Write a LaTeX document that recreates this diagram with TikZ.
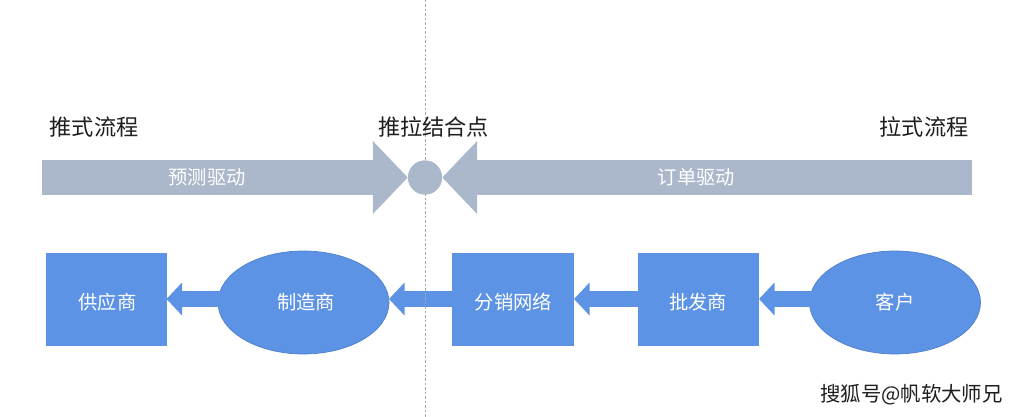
\documentclass[tikz,border=0pt]{standalone}
\usepackage{fontspec}
\setmainfont{Noto Sans CJK SC}
\usetikzlibrary{arrows.meta,shapes.geometric}
\definecolor{slate}{HTML}{ABB8CB}
\definecolor{flowblue}{HTML}{5D93E4}
\definecolor{edgeblue}{HTML}{4F80CC}
\definecolor{guide}{HTML}{ABABAB}
\definecolor{ink}{HTML}{1E1E1E}
\tikzset{
  pushlabel/.style={font=\fontsize{22.2}{24}\selectfont,text=ink,inner sep=0pt},
  innerlabel/.style={font=\fontsize{19.3}{21}\selectfont,text=white,inner sep=0pt},
  boxnode/.style={rectangle,fill=flowblue,minimum width=#1,minimum height=93.5pt,inner sep=0pt,
     font=\fontsize{19.3}{21}\selectfont,text=white},
  ellnode/.style={ellipse,fill=flowblue,draw=edgeblue,line width=0.7pt,minimum width=171pt,minimum height=103pt,inner sep=0pt,
     font=\fontsize{19.3}{21}\selectfont,text=white},
  bigflow/.style={draw=slate,line width=35pt,-{Triangle[length=35pt,width=71pt,color=slate]}},
  smallflow/.style={draw=flowblue,line width=16pt,-{Triangle[length=15.5pt,width=32pt,color=flowblue]}},
  guideline/.style={draw=guide,line width=0.9pt,dash pattern=on 2.5pt off 2pt},
  hub/.style={circle,fill=slate,minimum size=34pt,inner sep=0pt}
}
\begin{document}
\begin{tikzpicture}[x=1pt,y=-1pt]
\useasboundingbox (0,0) rectangle (1026,417);
\fill[white] (0,0) rectangle (1026,417);
\coordinate (pushstart) at (42,177.5);
\coordinate (pullstart) at (971.5,177.5);
\coordinate (guidetop) at (425,0);
\coordinate (guidebot) at (425,417);
% lower row nodes
\node[boxnode=121pt] (supplier) at (106.5,299.5) {\rule{0pt}{22pt}\hspace*{2pt}供应商};
\node[ellnode] (maker) at (303.5,302.5) {\hspace*{5pt}制造商};
\node[boxnode=122pt] (network) at (513,299.5) {\rule{0pt}{22pt}\hspace*{1pt}分销网络};
\node[boxnode=121.5pt] (wholesale) at (698.25,299.5) {\rule{0pt}{22pt}批发商};
\node[ellnode] (customer) at (895,302.5) {客户};
% connectors, lower row
\coordinate (makerout) at (222,299);
\coordinate (makerin) at (389,299);
\coordinate (netout) at (453,299);
\coordinate (netin) at (574,299);
\coordinate (wholeout) at (638,299);
\coordinate (wholein) at (759,299);
\coordinate (custout) at (813,299);
\coordinate (supin) at (166.5,299);
\draw[smallflow] (makerout) -- (supin);
\draw[smallflow] (netout) -- (makerin);
\draw[smallflow] (wholeout) -- (netin);
\draw[smallflow] (custout) -- (wholein);
% upper row
\node[hub] (hubnode) at (425,177.5) {};
\draw[bigflow] (pushstart) -- (hubnode.west);
\draw[bigflow] (pullstart) -- (hubnode.east);
\draw[guideline] (guidetop) -- (guidebot);
\node[hub] at (hubnode) {};
\node[innerlabel] (forecast) at (207,177) {预测驱动};
\node[innerlabel] (order) at (696.5,177) {订单驱动};
\node[pushlabel] (pushtitle) at (94,127) {推式流程};
\node[pushlabel] (mergetitle) at (433.5,127) {推拉结合点};
\node[pushlabel] (pulltitle) at (924,127) {拉式流程};
\node[font=\fontsize{20.4}{22}\selectfont,text=white,inner sep=0pt] at (912.5,395.5) {搜狐号@帆软大师兄};
\node[font=\fontsize{20.4}{22}\selectfont,text=ink,inner sep=0pt] (mark) at (911.5,394.5) {搜狐号@帆软大师兄};
\end{tikzpicture}
\end{document}
